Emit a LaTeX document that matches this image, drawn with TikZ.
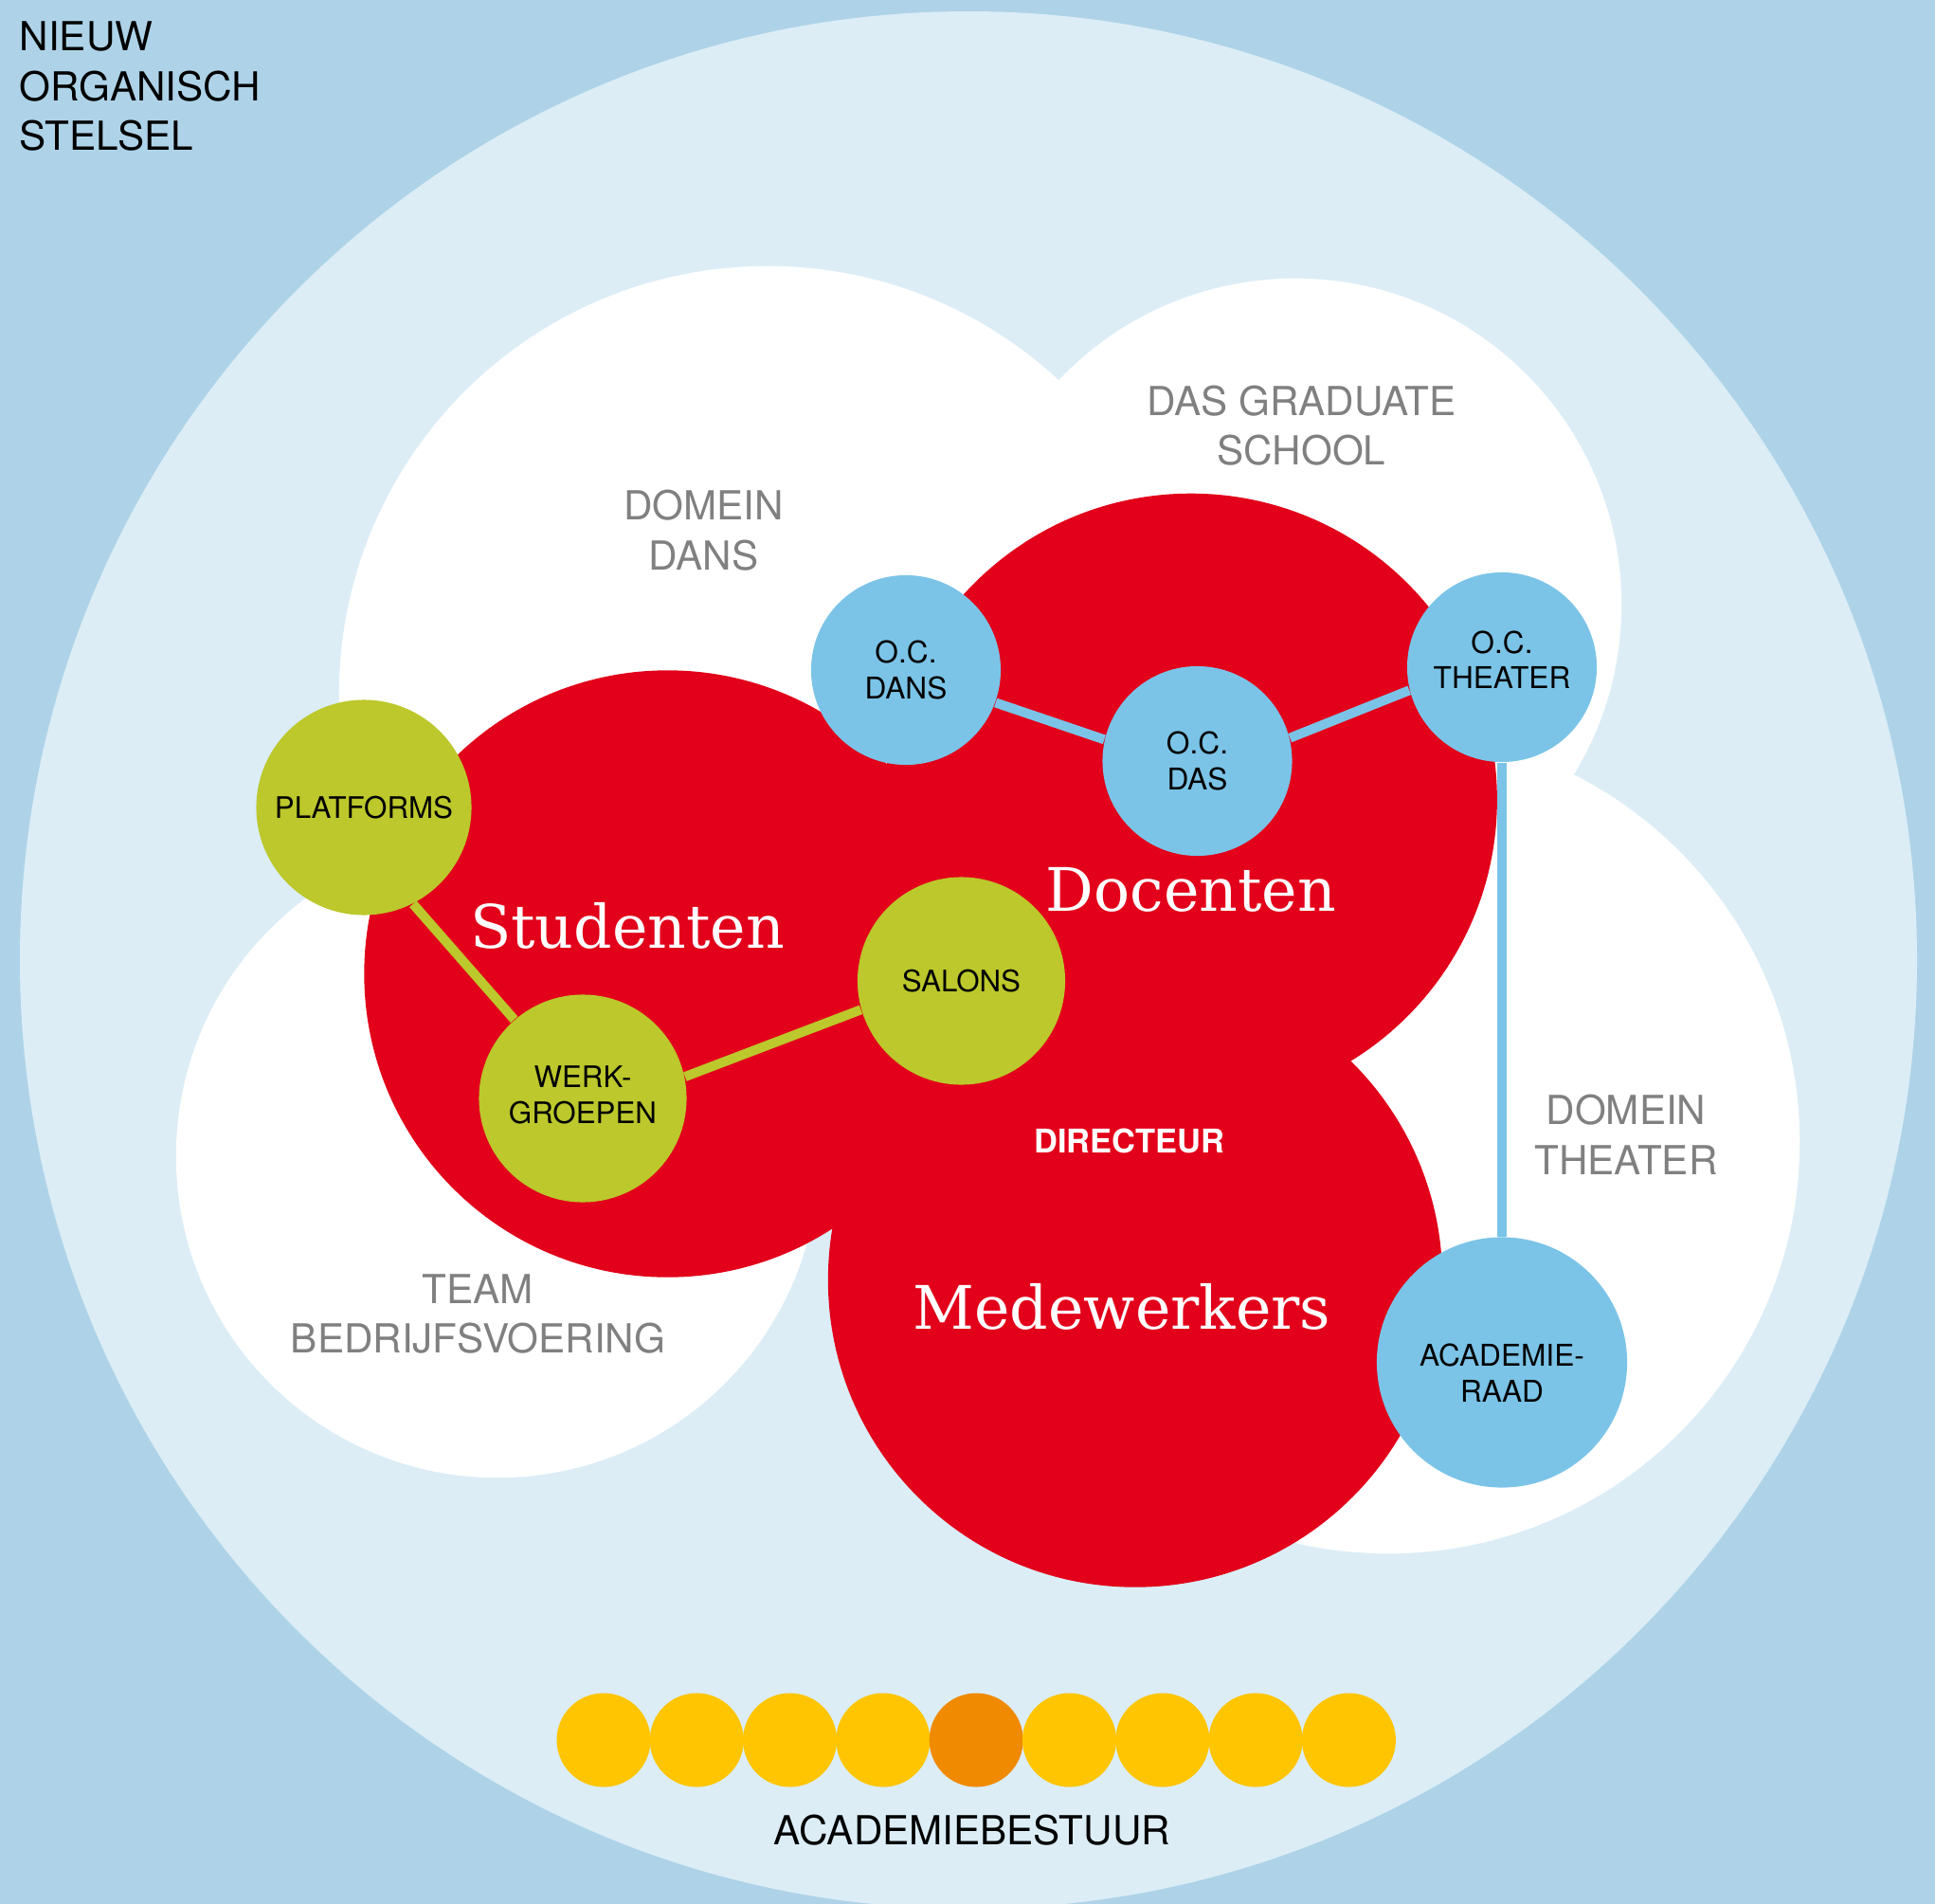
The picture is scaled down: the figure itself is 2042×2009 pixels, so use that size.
\documentclass[tikz,border=0pt]{standalone}
\usepackage{fontspec}
\setmainfont{TeX Gyre Heros}
\newfontfamily\slabfont{DejaVu Serif}

\definecolor{achtergrond}{HTML}{AED3E8}
\definecolor{stelselblauw}{HTML}{DCEDF6}
\definecolor{kernrood}{HTML}{E2001A}
\definecolor{ocblauw}{HTML}{7BC4E7}
\definecolor{groepgroen}{HTML}{BCC82B}
\definecolor{bestuurgeel}{HTML}{FEC500}
\definecolor{bestuuroranje}{HTML}{F08A00}
\definecolor{domeingrijs}{HTML}{808080}

\begin{document}
\begin{tikzpicture}[x=0.01cm, y=-0.01cm,
    cloud/.style={circle, fill=white, inner sep=0pt},
    kern/.style={circle, fill=kernrood, inner sep=0pt},
    kernlabel/.style={text=white, inner sep=0pt, anchor=base, font=\slabfont\fontsize{18}{20}\selectfont},
    ocbol/.style={circle, fill=ocblauw, inner sep=0pt, align=center, font=\fontsize{9}{10.7}\selectfont},
    groepbol/.style={circle, fill=groepgroen, inner sep=0pt, align=center, font=\fontsize{8.9}{10.7}\selectfont},
    lid/.style={circle, inner sep=0pt, minimum size=0.99cm},
    domein/.style={text=domeingrijs, inner sep=0pt, align=center, font=\fontsize{12}{15}\selectfont},
    ocline/.style={draw=ocblauw, line width=0.1cm},
    groepline/.style={draw=groepgroen, line width=0.1cm}]

    % background
    \clip (0,0) rectangle (2042,2009);
    \fill[achtergrond] (0,0) rectangle (2042,2009);
    \fill[stelselblauw] (1022,1013) circle [radius=1001];

    % clouds
    \node[cloud, minimum size=9.04cm] (dans)    at (810,733)   {};
    \node[cloud, minimum size=6.88cm] (das)     at (1367,638)  {};
    \node[cloud, minimum size=8.68cm] (theater) at (1465,1205) {};
    \node[cloud, minimum size=6.78cm] (team)    at (525,1220)  {};

    % kern
    \node[kern, minimum size=6.40cm] (studenten)   at (704.5,1027.5) {};
    \node[kern, minimum size=6.46cm] (docenten)    at (1256.7,843.9) {};
    \node[kern, minimum size=6.48cm] (medewerkers) at (1198,1350.5)  {};

    % organen
    \node[ocbol, minimum size=2.00cm] (ocdans)    at (956,707)     {O.C.\\DANS};
    \node[ocbol, minimum size=2.00cm] (ocdas)     at (1263.5,803)  {O.C.\\DAS};
    \node[ocbol, minimum size=2.00cm] (octheater) at (1585,704)    {O.C.\\THEATER\rule[-0.16cm]{0pt}{0pt}};
    \node[ocbol, minimum size=2.64cm] (raad)      at (1585,1437.5) {\rule{0pt}{0.46cm}ACADEMIE-\\RAAD};

    \node[groepbol, minimum size=2.27cm] (platforms)   at (384,852)    {PLATFORMS};
    \node[groepbol, minimum size=2.19cm] (werkgroepen) at (615,1159)   {WERK-\\GROEPEN\rule[-0.08cm]{0pt}{0pt}};
    \node[groepbol, minimum size=2.19cm] (salons)      at (1014.5,1035) {SALONS};

    \draw[ocline] (ocdans.-20) -- (ocdas.167);
    \draw[ocline] (ocdas.14) -- (octheater.194);
    \draw[ocline] (octheater) -- (raad);
    \draw[groepline] (platforms.-63) -- (werkgroepen.131);
    \draw[groepline] (werkgroepen.12) -- (salons.196);

    % labels
    \node[kernlabel] (studentenlabel)   at (662,1000)  {Studenten};
    \node[kernlabel] (docentenlabel)    at (1257,961)  {Docenten};
    \node[kernlabel] (medewerkerslabel) at (1184,1402) {Medewerkers};
    \node[text=white, inner sep=0pt, anchor=base, font=\bfseries\fontsize{9.8}{12}\selectfont] (directeur) at (1192,1216) {DIRECTEUR};

    \node[domein] (domeindans)    at (742.5,559.5) {DOMEIN\\DANS};
    \node[domein] (graduate)      at (1373.5,449)  {DAS GRADUATE\\SCHOOL};
    \node[domein] (domeintheater) at (1716,1197)   {DOMEIN\\THEATER};
    \node[domein] (bedrijf)       at (504.5,1386.5) {TEAM\\BEDRIJFSVOERING};

    \node[inner sep=0pt, anchor=north west, align=left, font=\fontsize{12}{15}\selectfont] (stelsel) at (20,22) {NIEUW\\ORGANISCH\\STELSEL};

    % academiebestuur
    \foreach \i/\kleur in {0/bestuurgeel,1/bestuurgeel,2/bestuurgeel,3/bestuurgeel,4/bestuuroranje,5/bestuurgeel,6/bestuurgeel,7/bestuurgeel,8/bestuurgeel} {
      \node[lid, fill=\kleur] (lid\i) at (637+98.3*\i,1836) {};
    }
    \node[inner sep=0pt, anchor=base, font=\fontsize{12}{15}\selectfont] (bestuur) at (1026,1946) {ACADEMIEBESTUUR};

\end{tikzpicture}
\end{document}
